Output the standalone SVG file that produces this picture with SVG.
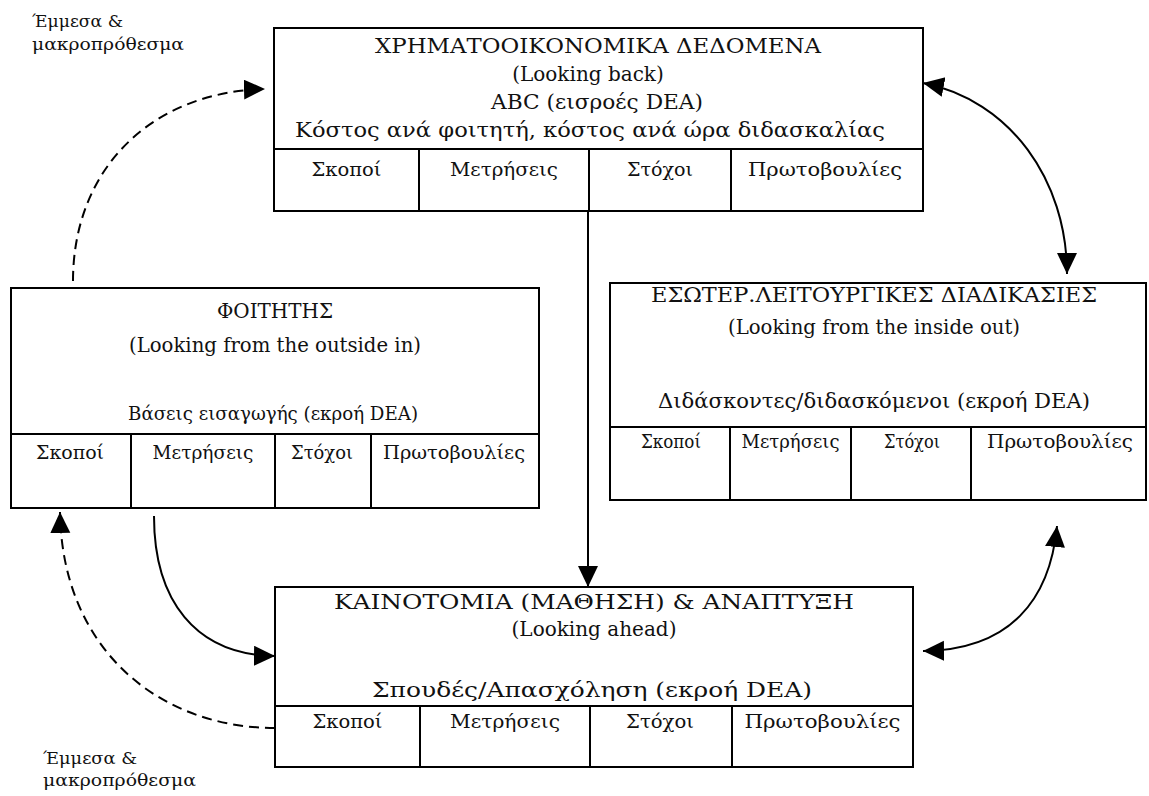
<svg xmlns="http://www.w3.org/2000/svg" width="1149" height="796" viewBox="0 0 1149 796" font-family="'DejaVu Serif', serif">
<style>
.box{fill:#fff;stroke:#000;stroke-width:2}
.ln{stroke:#000;stroke-width:2;fill:none}
text{font-family:'DejaVu Serif',serif;fill:#111}
.t{font-size:20px;text-anchor:middle}
.c{font-size:19px;text-anchor:middle}
.lbl{font-size:17px}
.con{stroke:#000;stroke-width:2;fill:none}
.dash{stroke-dasharray:10 6}
</style>
<defs>
<marker id="ah" markerUnits="userSpaceOnUse" markerWidth="24" markerHeight="22" refX="21" refY="10" orient="auto-start-reverse">
<path d="M0,0 L21,10 L0,20 z" fill="#000"/>
</marker>
</defs>
<rect width="1149" height="796" fill="#fff"/>

<g id="label-top">
<text class="lbl" x="32" y="27" textLength="91" lengthAdjust="spacingAndGlyphs">Έμμεσα &amp;</text>
<text class="lbl" x="32" y="50" textLength="152" lengthAdjust="spacingAndGlyphs">μακροπρόθεσμα</text>
</g>
<g id="label-bottom">
<text class="lbl" x="43" y="764" textLength="94" lengthAdjust="spacingAndGlyphs">Έμμεσα &amp;</text>
<text class="lbl" x="43" y="786" textLength="153" lengthAdjust="spacingAndGlyphs">μακροπρόθεσμα</text>
</g>

<g id="financial">
<rect class="box" x="274" y="28" width="649" height="183"/>
<path class="ln" d="M274,149 H923 M419,149 V211 M589,149 V211 M731,149 V211"/>
<text class="t" x="598" y="53" textLength="446" lengthAdjust="spacingAndGlyphs">ΧΡΗΜΑΤΟΟΙΚΟΝΟΜΙΚΑ ΔΕΔΟΜΕΝΑ</text>
<text class="t" x="588" y="81">(Looking back)</text>
<text class="t" x="597" y="109" textLength="212" lengthAdjust="spacingAndGlyphs">ABC (εισροές DEA)</text>
<text class="t" x="590" y="137" textLength="590" lengthAdjust="spacingAndGlyphs">Κόστος ανά φοιτητή, κόστος ανά ώρα διδασκαλίας</text>
<text class="c" x="346.5" y="176" textLength="70" lengthAdjust="spacingAndGlyphs">Σκοποί</text>
<text class="c" x="504" y="176" textLength="108" lengthAdjust="spacingAndGlyphs">Μετρήσεις</text>
<text class="c" x="660" y="176" textLength="66" lengthAdjust="spacingAndGlyphs">Στόχοι</text>
<text class="c" x="825" y="176" textLength="154" lengthAdjust="spacingAndGlyphs">Πρωτοβουλίες</text>
</g>

<g id="student">
<rect class="box" x="11" y="288" width="528" height="220"/>
<path class="ln" d="M11,434 H539 M131,434 V508 M275,434 V508 M371,434 V508"/>
<text class="t" x="275" y="318" textLength="116" lengthAdjust="spacingAndGlyphs">ΦΟΙΤΗΤΗΣ</text>
<text class="t" x="275" y="352" textLength="292" lengthAdjust="spacingAndGlyphs">(Looking from the outside in)</text>
<text class="c" x="273" y="420" textLength="290" lengthAdjust="spacingAndGlyphs">Βάσεις εισαγωγής (εκροή DEA)</text>
<text class="c" x="70" y="459" textLength="68" lengthAdjust="spacingAndGlyphs">Σκοποί</text>
<text class="c" x="203" y="459" textLength="101" lengthAdjust="spacingAndGlyphs">Μετρήσεις</text>
<text class="c" x="322" y="459" textLength="62" lengthAdjust="spacingAndGlyphs">Στόχοι</text>
<text class="c" x="454" y="459" textLength="142" lengthAdjust="spacingAndGlyphs">Πρωτοβουλίες</text>
</g>

<g id="internal">
<rect class="box" x="610" y="283" width="536" height="217"/>
<path class="ln" d="M610,427 H1146 M730,427 V500 M851,427 V500 M971,427 V500"/>
<text class="t" x="874" y="302" textLength="446" lengthAdjust="spacingAndGlyphs">ΕΣΩΤΕΡ.ΛΕΙΤΟΥΡΓΙΚΕΣ ΔΙΑΔΙΚΑΣΙΕΣ</text>
<text class="t" x="874" y="334" textLength="292" lengthAdjust="spacingAndGlyphs">(Looking from the inside out)</text>
<text class="t" x="874" y="408" textLength="432" lengthAdjust="spacingAndGlyphs">Διδάσκοντες/διδασκόμενοι (εκροή DEA)</text>
<text class="c" x="671" y="448" textLength="60" lengthAdjust="spacingAndGlyphs">Σκοποί</text>
<text class="c" x="790.5" y="448" textLength="98" lengthAdjust="spacingAndGlyphs">Μετρήσεις</text>
<text class="c" x="912" y="448" textLength="56" lengthAdjust="spacingAndGlyphs">Στόχοι</text>
<text class="c" x="1060" y="448" textLength="146" lengthAdjust="spacingAndGlyphs">Πρωτοβουλίες</text>
</g>

<g id="innovation">
<rect class="box" x="275" y="587" width="638" height="180"/>
<path class="ln" d="M275,706 H913 M420,706 V767 M590,706 V767 M732,706 V767"/>
<text class="t" x="594" y="609" textLength="520" lengthAdjust="spacingAndGlyphs">ΚΑΙΝΟΤΟΜΙΑ (ΜΑΘΗΣΗ) &amp; ΑΝΑΠΤΥΞΗ</text>
<text class="t" x="594" y="636">(Looking ahead)</text>
<text class="t" x="592" y="697" textLength="440" lengthAdjust="spacingAndGlyphs">Σπουδές/Απασχόληση (εκροή DEA)</text>
<text class="c" x="347.5" y="728" textLength="70" lengthAdjust="spacingAndGlyphs">Σκοποί</text>
<text class="c" x="505" y="728" textLength="110" lengthAdjust="spacingAndGlyphs">Μετρήσεις</text>
<text class="c" x="660" y="728" textLength="68" lengthAdjust="spacingAndGlyphs">Στόχοι</text>
<text class="c" x="822.5" y="728" textLength="156" lengthAdjust="spacingAndGlyphs">Πρωτοβουλίες</text>
</g>

<g id="connectors">
<path class="con dash" d="M73,281 C73,170 150,92 265,89" marker-end="url(#ah)"/>
<path class="con" d="M923,83 C1010,100 1067,180 1067,274" marker-start="url(#ah)" marker-end="url(#ah)"/>
<path class="con" d="M1057,526 C1050,600 1010,650 923,651" marker-start="url(#ah)" marker-end="url(#ah)"/>
<path class="con" d="M154,516 C154,600 195,655 275,656" marker-end="url(#ah)"/>
<path class="con dash" d="M275,728 C160,728 62,650 60,512" marker-end="url(#ah)"/>
<path class="con" d="M588,211 L588,587" marker-end="url(#ah)"/>
</g>
</svg>
